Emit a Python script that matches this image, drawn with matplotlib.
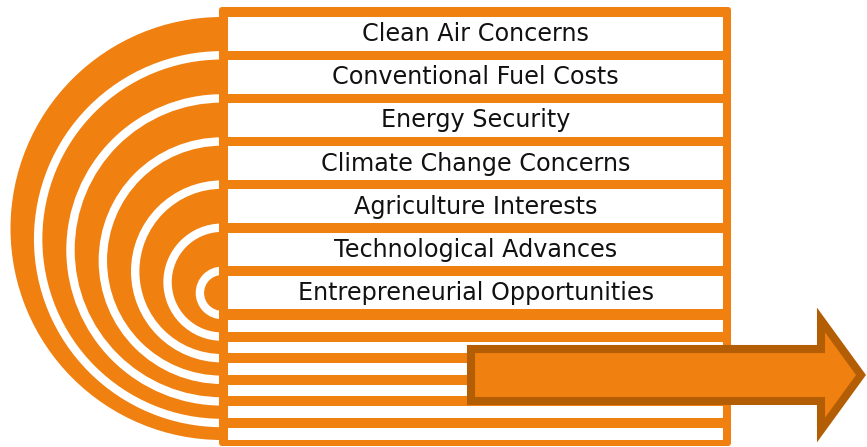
import matplotlib
matplotlib.use("Agg")
import matplotlib.pyplot as plt
from matplotlib.patches import Wedge, FancyBboxPatch, Rectangle, Polygon

# ---- content ----
labels = ["Clean Air Concerns", "Conventional Fuel Costs", "Energy Security",
          "Climate Change Concerns", "Agriculture Interests",
          "Technological Advances", "Entrepreneurial Opportunities"]
n_thin_rows = 6

ORANGE = "#F08010"
DARK = "#B35E05"

W, H = 867, 447
fig = plt.figure(figsize=(W / 100, H / 100), dpi=100)
ax = fig.add_axes([0, 0, 1, 1])
ax.set_xlim(0, W)
ax.set_ylim(H, 0)
ax.axis("off")

# layout (pixels)
frame_l, frame_r, frame_t, frame_b = 219, 731, 7, 446
in_l, in_r = 228, 723
row_top0, row_pitch, row_h = 17.0, 43.1, 33.5
thin_top0, thin_pitch, thin_h = 320.0, 21.6, 11.6
cx = 222

# big orange half disc
ax.add_patch(Wedge((cx, (17 + 440) / 2), (440 - 17) / 2, 90, 270,
                   facecolor=ORANGE, edgecolor="none", zorder=1))

# white rings
n = len(labels)
for k in range(1, n):
    top = row_top0 + k * row_pitch - 4.8
    bot = (thin_top0 - 5) + (n - 1 - k) * thin_pitch
    cy = (top + bot) / 2
    r = (bot - top) / 2
    ax.add_patch(Wedge((cx, cy), r + 4.2, 90, 270, width=8.4,
                       facecolor="white", edgecolor="none", zorder=2))

# frame
ax.add_patch(FancyBboxPatch((frame_l, frame_t), frame_r - frame_l, frame_b - frame_t,
                            boxstyle="round,pad=0,rounding_size=3",
                            facecolor=ORANGE, edgecolor="none", zorder=3))

for i, lab in enumerate(labels):
    y0 = row_top0 + i * row_pitch
    ax.add_patch(Rectangle((in_l, y0), in_r - in_l, row_h,
                           facecolor="white", edgecolor="none", zorder=4))
    ax.text((in_l + in_r) / 2, y0 + row_h / 2 + 0.5, lab, ha="center", va="center",
            fontsize=17.2, color="#111111", family="DejaVu Sans", zorder=5)

for j in range(n_thin_rows):
    y0 = thin_top0 + j * thin_pitch
    ax.add_patch(Rectangle((in_l, y0), in_r - in_l, thin_h,
                           facecolor="white", edgecolor="none", zorder=4))

# arrow
ay = 375
pts = [(471, ay - 26), (821, ay - 26), (821, ay - 55), (861, ay),
       (821, ay + 55), (821, ay + 26), (471, ay + 26)]
ax.add_patch(Polygon(pts, closed=True, facecolor=ORANGE, edgecolor=DARK,
                     linewidth=5.8, joinstyle="miter", zorder=6))

fig.savefig("out.png", dpi=100)
